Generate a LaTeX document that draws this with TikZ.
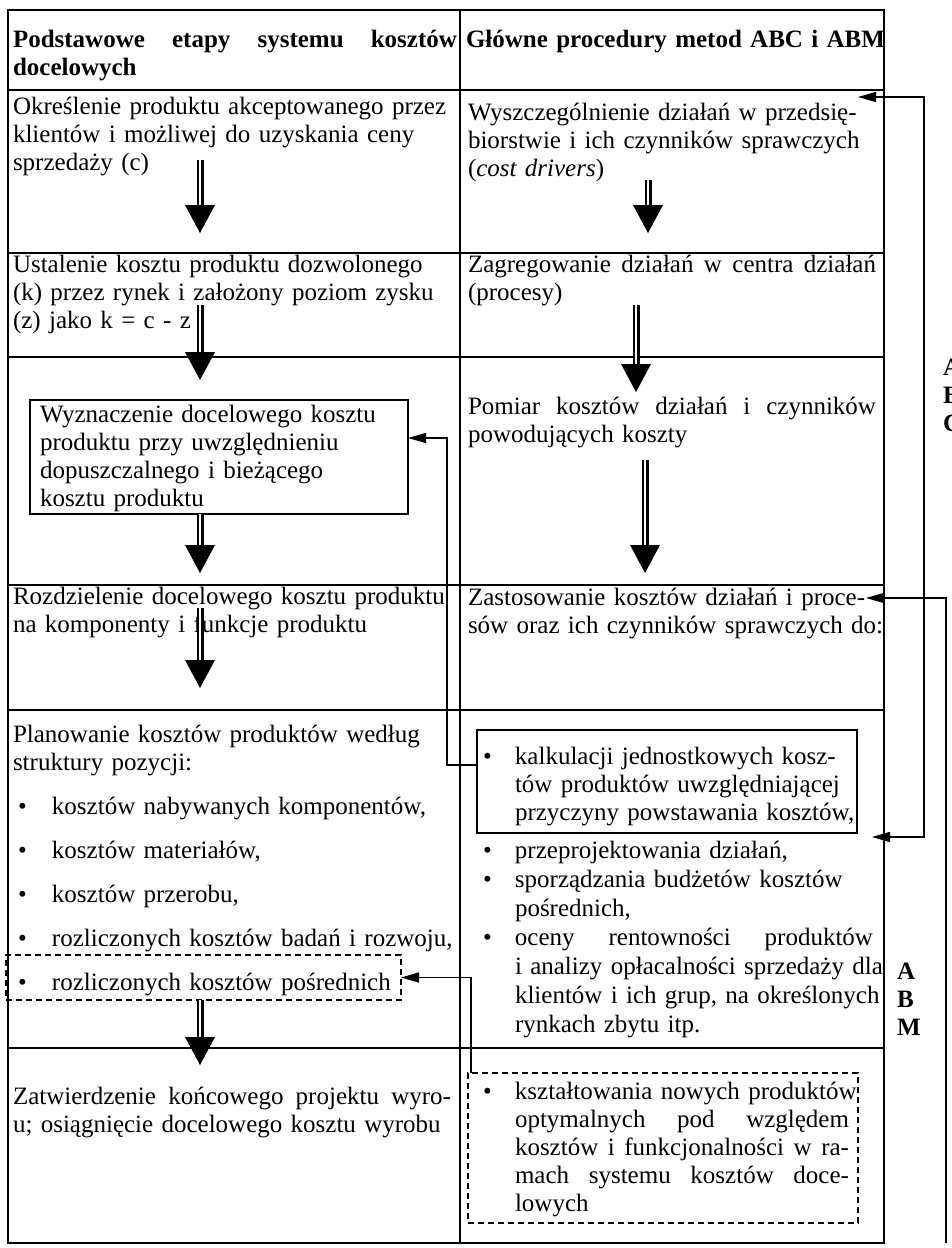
\documentclass[tikz,border=0pt]{standalone}
\usepackage{fontspec}
\setmainfont{Liberation Serif}
\usetikzlibrary{arrows.meta,calc,fit}

% body text size and line spacing of the table
\newcommand\cellfont{\fontsize{12.5pt}{14pt}\selectfont}
% a line whose interword spaces are stretched to the given width
\newcommand\jline[2]{\makebox[#1][s]{\spaceskip=0pt\xspaceskip=0pt #2}}
% bullets: left column and right column
\newcommand\bul{\hspace*{2.5pt}\makebox[17pt][l]{\textbullet}}
\newcommand\bulR{\makebox[16pt][l]{\textbullet}}
\newcommand\indR{\hspace*{16pt}}
% thick flow arrow: double shaft plus solid triangular head
\newcommand\flowarrow[2]{%
  \draw[shaft] (#1) -- ($(#2)+(0,-27)$);
  \fill ($(#2)+(-15,-28)$) -- ($(#2)+(15,-28)$) -- (#2) -- cycle;}

\begin{document}
\begin{tikzpicture}[x=0.5pt,y=-0.5pt,
  every node/.style={inner sep=0pt, outer sep=0pt},
  grid/.style={line width=0.8pt},
  cell/.style={anchor=base west, text width=#1, align=left, font=\cellfont},
  cell/.default=225pt,
  frame/.style={draw, line width=0.8pt, fit={#1}, inner sep=0pt},
  dframe/.style={draw, line width=0.7pt, dash pattern=on 3pt off 2pt, fit={#1}, inner sep=0pt},
  conn/.style={line width=0.6pt, -{Triangle[length=9pt,width=5pt]}},
  conn2/.style={line width=0.6pt, {Triangle[length=9pt,width=5pt]}-{Triangle[length=9pt,width=5pt]}},
  shaft/.style={line width=1.3pt, double distance=0.9pt, double=white}]

\useasboundingbox (0,0) rectangle (952,1248);
\fill[white] (0,0) rectangle (952,1248);

% table frame and rules
\draw[grid] (8,10) rectangle (884,1243);
\draw[grid] (460,10) -- (460,1243);
\foreach \yy in {90,253,357,585,710,1048}
  \draw[grid] (8,\yy) -- (884,\yy);

% header
\node[cell] (hL) at (13,47) {\bfseries\jline{222pt}{Podstawowe etapy systemu kosztów}\\ docelowych};
\node[cell=215pt] (hR) at (466,47) {\bfseries Główne procedury metod ABC i ABM};

% row 1
\node[cell] (r1L) at (13,114) {Określenie produktu akceptowanego przez\\ klientów i możliwej do uzyskania ceny\\ sprzedaży (c)};
\node[cell=215pt] (r1R) at (468,120) {Wyszczególnienie działań w przedsię-\\ biorstwie i ich czynników sprawczych\\ (\textit{cost drivers})};

% row 2
\node[cell] (r2L) at (13,272) {Ustalenie kosztu produktu dozwolonego\\ (k) przez rynek i założony poziom zysku\\ (z) jako k = c - z};
\node[cell=215pt] (r2R) at (468,272) {\jline{204pt}{Zagregowanie działań w centra działań}\\ (procesy)};

% row 3
\node[frame={(30,400) (408,514)}] (wyzn) {};
\node[cell] (r3L) at (40,422) {Wyznaczenie docelowego kosztu\\ produktu przy uwzględnieniu\\ dopuszczalnego i bieżącego\\ kosztu produktu};
\node[cell=215pt] (r3R) at (468,414) {\jline{204pt}{Pomiar kosztów działań i czynników}\\ powodujących koszty};

% row 4
\node[cell] (r4L) at (13,604) {Rozdzielenie docelowego kosztu produktu\\ na komponenty i funkcje produktu};
\node[cell=215pt] (r4R) at (468,605) {Zastosowanie kosztów działań i proce-\\ sów oraz ich czynników sprawczych do:};

% row 5
\node[cell] (r5L) at (13,742) {Planowanie kosztów produktów według\\ struktury pozycji:\\[8pt]
  \bul kosztów nabywanych komponentów,\\[8pt]
  \bul kosztów materiałów,\\[8pt]
  \bul kosztów przerobu,\\[8pt]
  \bul rozliczonych kosztów badań i rozwoju,\\[8pt]
  \bul rozliczonych kosztów pośrednich};
\node[dframe={(6,955) (401,1000)}] (dpos) {};
\node[frame={(477,730) (857,833)}] (kalk) {};
\node[cell=190pt] (kalkT) at (483,764) {\bulR kalkulacji jednostkowych kosz-\\ \indR tów produktów uwzględniającej\\ \indR przyczyny powstawania kosztów,};
\node[cell=207pt, font=\fontsize{12.5pt}{14.5pt}\selectfont] (r5R) at (483,858) {\bulR przeprojektowania działań,\\
  \bulR sporządzania budżetów kosztów\\ \indR pośrednich,\\
  \bulR \jline{179pt}{oceny rentowności produktów}\\
  \indR i analizy opłacalności sprzedaży dla\\
  \indR klientów i ich grup, na określonych\\
  \indR rynkach zbytu itp.};

% row 6
\node[cell] (r6L) at (13,1104) {\jline{219pt}{Zatwierdzenie końcowego projektu wyro-}\\ u; osiągnięcie docelowego kosztu wyrobu};
\node[dframe={(468,1073) (858,1223)}] (dksz) {};
\node[cell=190pt] (r6R) at (483,1099) {\bulR kształtowania nowych produktów\\
  \indR\jline{167pt}{optymalnych pod względem}\\
  \indR\jline{167pt}{kosztów i funkcjonalności w ra-}\\
  \indR\jline{167pt}{mach systemu kosztów doce-}\\
  \indR lowych};

% side labels
\node[cell=20pt] (abc) at (943,375) {\bfseries A\\B\\C};
\node[cell=20pt] (abm) at (897,979) {\bfseries A\\B\\M};

% thick flow arrows, left column
\coordinate (a1s) at (200,160); \coordinate (a1t) at (200,233);
\coordinate (a2s) at (200,305); \coordinate (a2t) at (200,380);
\coordinate (a3s) at (200,514); \coordinate (a3t) at (200,573);
\coordinate (a4s) at (200,608); \coordinate (a4t) at (200,688);
\coordinate (a5s) at (200,1000); \coordinate (a5t) at (200,1065);
% thick flow arrows, right column
\coordinate (b1s) at (648,180); \coordinate (b1t) at (648,233);
\coordinate (b2s) at (636,305); \coordinate (b2t) at (636,392);
\coordinate (b3s) at (645,460); \coordinate (b3t) at (645,573);
\flowarrow{a1s}{a1t}
\flowarrow{a2s}{a2t}
\flowarrow{a3s}{a3t}
\flowarrow{a4s}{a4t}
\flowarrow{a5s}{a5t}
\flowarrow{b1s}{b1t}
\flowarrow{b2s}{b2t}
\flowarrow{b3s}{b3t}

% thin feedback connectors
\coordinate (t1) at (858,97);
\coordinate (t2) at (872,837);
\coordinate (busA) at (924,0);
\draw[conn2] (t2) -- (t2 -| busA) -- (t1 -| busA) -- (t1);

\coordinate (t3) at (866,598);
\coordinate (busB) at (946,1243);
\draw[conn] (busB) -- (busB |- t3) -- (t3);

\coordinate (c3) at (477,765);
\coordinate (busC) at (447,0);
\coordinate (wyzIn) at (408,438);
\draw[conn] (c3) -- (c3 -| busC) -- (busC |- wyzIn) -- (wyzIn);

\coordinate (d1) at (471,1073);
\draw[conn] (d1) -- (d1 |- dpos.east) -- (dpos.east);

\end{tikzpicture}
\end{document}
